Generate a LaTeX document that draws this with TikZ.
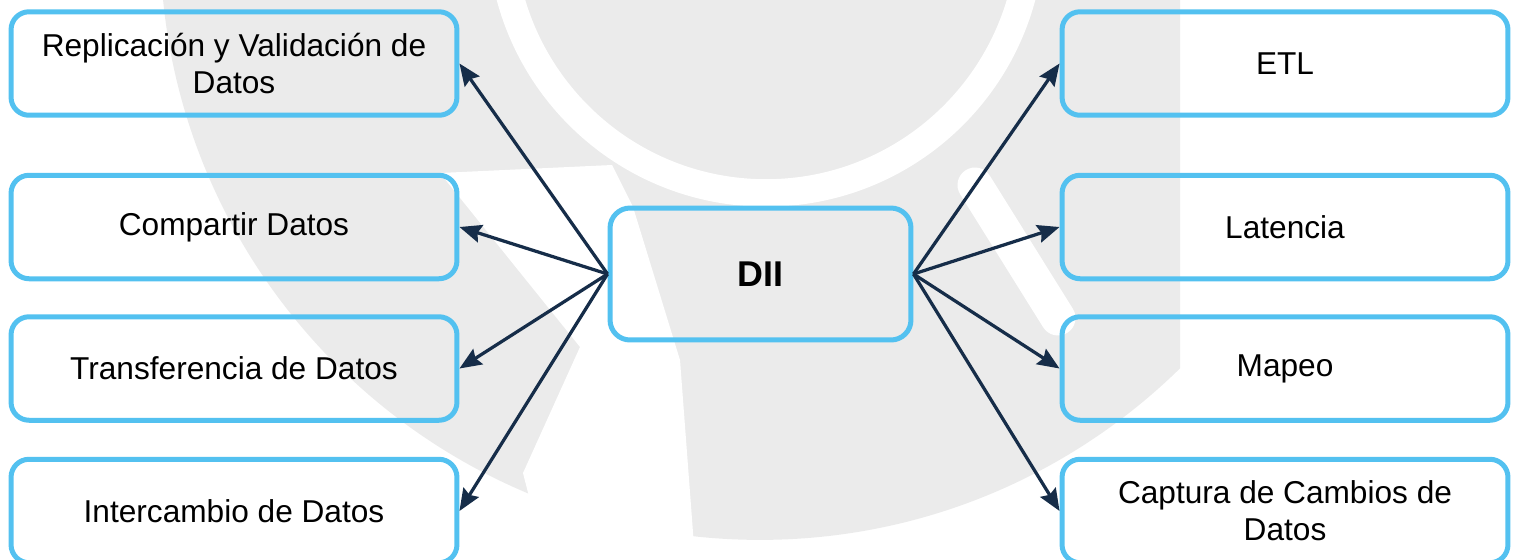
\documentclass[tikz,border=0pt]{standalone}
\usepackage{fontspec}
\setmainfont{Liberation Sans}
\usepackage{tikz}
\usetikzlibrary{arrows.meta, positioning}
\definecolor{celeste}{RGB}{83,193,240}
\definecolor{marino}{RGB}{22,45,73}
\definecolor{marca}{RGB}{235,235,235}

\tikzset{
    caja/.style={rectangle, rounded corners=0.36cm, draw=celeste, line width=0.1cm,
        minimum width=8.92cm, minimum height=2.07cm, align=center,
        font=\fontsize{18}{21}\selectfont},
    flecha/.style={-{Stealth[length=0.44cm, width=0.36cm, inset=0.06cm]}, draw=marino, line width=0.065cm}
}

\begin{document}
\begin{tikzpicture}[x=0.02cm, y=-0.02cm]
    \useasboundingbox (0,0) rectangle (1520,559);

    % Marca de agua
    \begin{scope}
        \clip (0,0) rectangle (1180,559);
        \fill[marca] (760,-60) circle[radius=12cm];
    \end{scope}
    \fill[white] (440,173) -- (580,347) -- (523,473) -- (545,559)
        -- (695,559) -- (680,360) -- (633,207) -- (612,165) -- cycle;
    \draw[white, line width=0.55cm] (766,-72) circle[radius=5.3cm];
    \draw[white, line width=0.7cm, line cap=round] (975,185) -- (1058,318);

    % Nodo central
    \node[caja, rounded corners=0.4cm, minimum width=6.02cm, minimum height=2.64cm,
        font=\fontsize{20.4}{24}\selectfont\bfseries] (dii) at (760.5,274) {DII};

    % Columna izquierda
    \node[caja] (replica) at (234,63.5) {Replicación y Validación de\\Datos};
    \node[caja] (compartir) at (234,227) {Compartir Datos};
    \node[caja] (transfer) at (234,368.5) {Transferencia de Datos};
    \node[caja] (intercambio) at (234,511) {Intercambio de Datos};

    % Columna derecha
    \node[caja] (etl) at (1285,63.5) {ETL};
    \node[caja] (latencia) at (1285,227) {Latencia};
    \node[caja] (mapeo) at (1285,368.5) {Mapeo};
    \node[caja] (captura) at (1285,511) {Captura de Cambios de\\Datos};

    % Flechas
    \draw[flecha] (dii.west) -- (replica.east);
    \draw[flecha] (dii.west) -- (compartir.east);
    \draw[flecha] (dii.west) -- (transfer.east);
    \draw[flecha] (dii.west) -- (intercambio.east);
    \draw[flecha] (dii.east) -- (etl.west);
    \draw[flecha] (dii.east) -- (latencia.west);
    \draw[flecha] (dii.east) -- (mapeo.west);
    \draw[flecha] (dii.east) -- (captura.west);
\end{tikzpicture}
\end{document}
